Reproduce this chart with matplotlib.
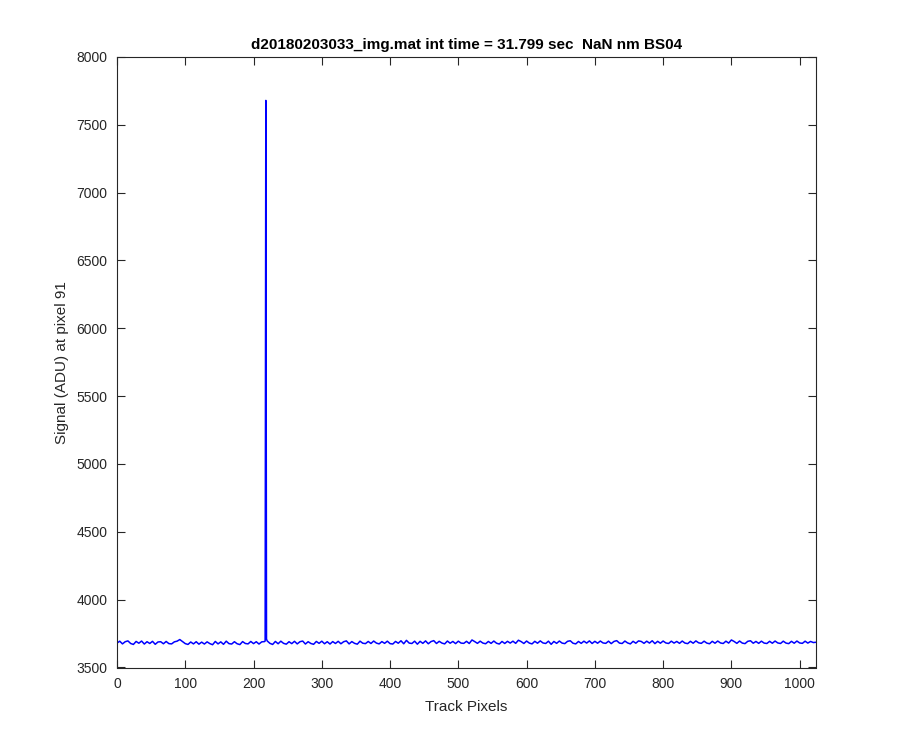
import matplotlib
matplotlib.use("Agg")
import matplotlib.pyplot as plt
import numpy as np

# baseline signal, one value every 4 track pixels
baseline = [
    3680, 3694, 3674, 3690, 3696, 3677, 3670, 3692, 3679, 3695, 3673, 3690, 3677, 3693, 3671, 3688,
    3690, 3675, 3692, 3676, 3674, 3689, 3694, 3706, 3691, 3676, 3670, 3688, 3674, 3690, 3672, 3687,
    3673, 3689, 3676, 3668, 3692, 3674, 3689, 3671, 3694, 3676, 3673, 3690, 3675, 3669, 3691, 3677,
    3674, 3692, 3676, 3690, 3673, 3689, 3691, 3696, 3678, 3670, 3692, 3675, 3694, 3678, 3672, 3690,
    3676, 3693, 3674, 3690, 3695, 3673, 3690, 3677, 3671, 3692, 3678, 3694, 3675, 3690, 3673, 3691,
    3677, 3693, 3675, 3690, 3696, 3674, 3691, 3678, 3672, 3694, 3679, 3676, 3692, 3677, 3695, 3680,
    3674, 3691, 3678, 3694, 3676, 3673, 3692, 3679, 3697, 3675, 3700, 3680, 3677, 3694, 3672, 3693,
    3678, 3696, 3675, 3691, 3698, 3677, 3693, 3680, 3674, 3695, 3679, 3692, 3676, 3694, 3680, 3678,
    3693, 3677, 3703, 3691, 3678, 3694, 3680, 3675, 3692, 3678, 3695, 3679, 3673, 3692, 3677, 3693,
    3680, 3694, 3678, 3701, 3691, 3677, 3695, 3680, 3674, 3693, 3679, 3696, 3681, 3677, 3694, 3671,
    3692, 3678, 3695, 3680, 3676, 3693, 3697, 3679, 3674, 3692, 3678, 3694, 3680, 3696, 3677, 3693,
    3679, 3695, 3681, 3678, 3694, 3676, 3692, 3698, 3680, 3677, 3695, 3681, 3674, 3693, 3679, 3696,
    3692, 3678, 3694, 3680, 3697, 3676, 3693, 3679, 3695, 3681, 3677, 3694, 3680, 3692, 3678, 3695,
    3680, 3676, 3693, 3679, 3696, 3682, 3678, 3694, 3680, 3675, 3693, 3679, 3695, 3681, 3677, 3694,
    3680, 3703, 3692, 3678, 3695, 3680, 3676, 3693, 3697, 3679, 3692, 3678, 3694, 3680, 3677, 3693,
    3679, 3695, 3681, 3677, 3694, 3680, 3676, 3693, 3679, 3695, 3681, 3678, 3694, 3680, 3692, 3684,
    3686,
]
baseline_px = list(range(0, 1024, 4)) + [1024]

# the single spike
spike_px = [217, 218, 219]
spike_val = [3695, 7680, 3710]

px = np.array(baseline_px + spike_px)
sig = np.array(baseline + spike_val)
order = np.argsort(px, kind="stable")
px = px[order]
sig = sig[order]

plt.rcParams['font.family'] = ['Liberation Sans', 'DejaVu Sans']
dark = (0.15, 0.15, 0.15)

fig = plt.figure(figsize=(9, 7.5), dpi=100)
ax = fig.add_axes([0.13, 0.11, 0.7767, 0.814])
ax.plot(px, sig, color=(0, 0, 1), linewidth=1.1)

ax.set_xlim(0, 1024)
ax.set_ylim(3500, 8000)
ax.set_xticks(np.arange(0, 1001, 100))
ax.set_yticks(np.arange(3500, 8001, 500))
ax.tick_params(direction='in', top=True, right=True, length=6, width=0.8,
               colors=dark, labelsize=10, labelcolor=dark)
ax.tick_params(axis='y', pad=7)
ax.tick_params(axis='x', pad=7)
for s in ax.spines.values():
    s.set_color(dark)
    s.set_linewidth(0.8)

ax.set_xlabel('Track Pixels', fontsize=11, color=dark, labelpad=6)
ax.set_ylabel('Signal (ADU) at pixel 91', fontsize=11, color=dark, labelpad=5)
ax.set_title('d20180203033_img.mat int time = 31.799 sec  NaN nm BS04',
             fontsize=11, fontweight='bold', color='black', pad=6)

fig.savefig('out.png', dpi=100)
